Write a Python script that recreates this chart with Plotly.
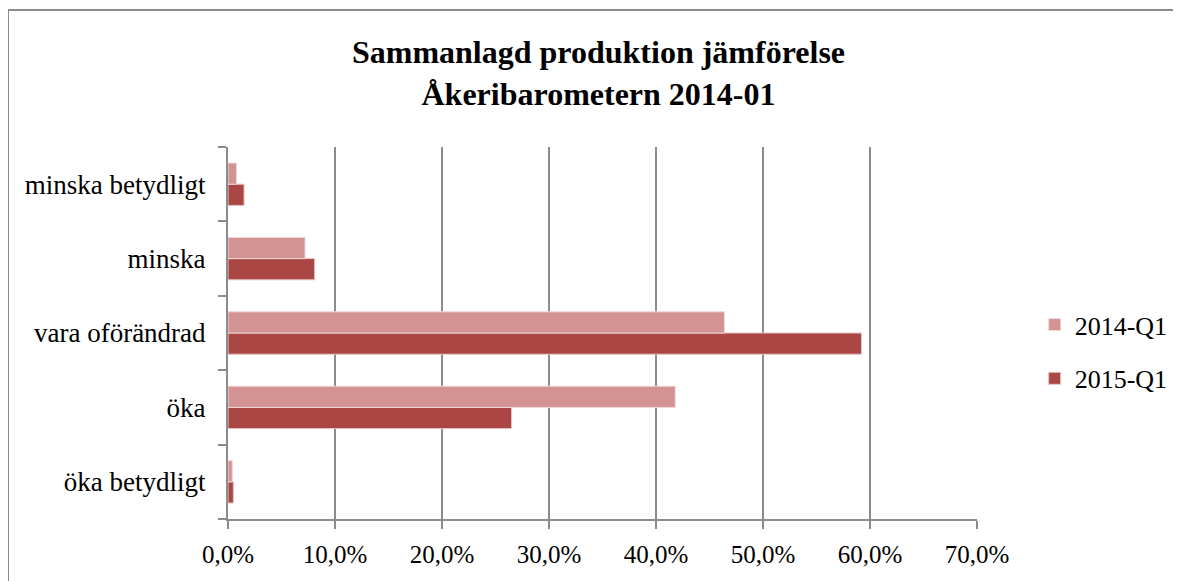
import plotly.graph_objects as go

categories = ["öka betydligt", "öka", "vara oförändrad", "minska", "minska betydligt"]
q2014 = [0.4, 41.8, 46.4, 7.2, 0.8]
q2015 = [0.5, 26.5, 59.2, 8.1, 1.5]
series_names = ["2014-Q1", "2015-Q1"]
x_ticks = [0, 10, 20, 30, 40, 50, 60, 70]

serif = "Liberation Serif, Times New Roman, serif"

fig = go.Figure()
fig.add_trace(go.Bar(y=categories, x=q2015, name=series_names[1], orientation="h",
                     legendgroup="b", legendrank=2,
                     marker=dict(color="#AA4744", line=dict(color="#E8C4C4", width=1))))
fig.add_trace(go.Bar(y=categories, x=q2014, name=series_names[0], orientation="h",
                     legendgroup="a", legendrank=1,
                     marker=dict(color="#D39393", line=dict(color="#EFD9D9", width=1))))

fig.update_layout(
    width=1181, height=581,
    margin=dict(l=220, r=212, t=139, b=70),
    paper_bgcolor="white", plot_bgcolor="white",
    barmode="group", bargap=0.43, bargroupgap=0,
    title=dict(text="<b>Sammanlagd produktion jämförelse<br>Åkeribarometern 2014-01</b>",
               x=0.5, xanchor="center", y=0.905, yanchor="top",
               font=dict(family=serif, size=32, color="black")),
    font=dict(family=serif, size=25, color="black"),
    legend=dict(x=1.077, y=0.45, xanchor="left", yanchor="middle",
                traceorder="grouped", tracegroupgap=17,
                font=dict(family=serif, size=26, color="black")),
    showlegend=True,
)
fig.update_xaxes(range=[0, 70], tickvals=x_ticks,
                 ticktext=[f"{v:.1f}%".replace(".", ",") for v in x_ticks],
                 showgrid=True, gridcolor="#8C8C8C", gridwidth=2,
                 showline=True, linecolor="#8C8C8C", linewidth=2,
                 ticks="outside", ticklen=8, tickcolor="#8C8C8C", tickwidth=2,
                 ticklabelstandoff=4,
                 zeroline=False, tickfont=dict(family=serif, size=25, color="black"))
fig.update_yaxes(showline=True, linecolor="#8C8C8C", linewidth=2,
                 ticks="outside", ticklen=8, tickcolor="#8C8C8C", tickwidth=2,
                 tickson="boundaries", showgrid=False, ticklabelstandoff=15,
                 tickfont=dict(family=serif, size=27, color="black"))

fig.add_shape(type="rect", xref="paper", yref="paper",
              x0=-0.2937, x1=1.268, y0=-0.3, y1=1.368,
              line=dict(color="#8C8C8C", width=2), fillcolor="rgba(0,0,0,0)", layer="below")

fig.write_html("out.html")
